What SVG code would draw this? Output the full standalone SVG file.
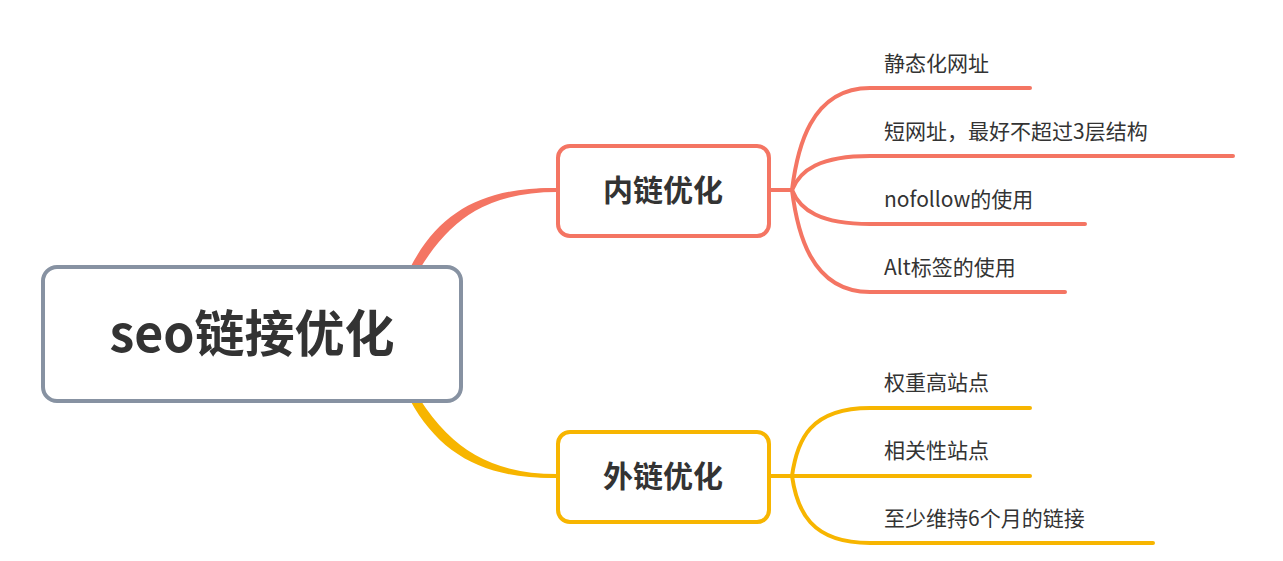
<svg xmlns="http://www.w3.org/2000/svg" width="1283" height="561" viewBox="0 0 1283 561">
<style>
.r{fill:none;stroke-width:4;stroke-linecap:round}
.red{stroke:#F47563}.yel{stroke:#F7B500}
.t{font-family:"Noto Sans CJK SC","Noto Sans",sans-serif;fill:#333}
.leaf{font-size:21px}
.mid{font-size:30px;font-weight:bold;text-anchor:middle}
</style>
<rect width="1283" height="561" fill="#fff"/>
<g id="connectors">
<path d="M418,268 C450,215 490,190 557,190 L557,188 C485,187 440,210 410,268 Z" fill="#F47563"/>
<path d="M418,400 C450,450 490,476 557,476 L557,478 C485,479 440,455 410,400 Z" fill="#F7B500"/>
<path class="r red" d="M418,268 C450,215 490,190 557,190"/>
<path class="r yel" d="M418,400 C450,450 490,476 557,476"/>
<g class="r red">
<path d="M770,190 H792 C797,150 810,88 870,88 H1030"/>
<path d="M792,190 C800,170 820,156 870,156 H1233"/>
<path d="M792,190 C800,210 820,224 870,224 H1085"/>
<path d="M792,190 C797,230 810,292 870,292 H1065"/>
</g>
<g class="r yel">
<path d="M770,476 H792 C797,440 810,408 870,408 H1030"/>
<path d="M792,476 H1030"/>
<path d="M792,476 C797,510 810,543 870,543 H1153"/>
</g>
</g>
<g id="root">
<rect x="43" y="267" width="418" height="134" rx="14" fill="#fff" stroke="#8792A2" stroke-width="4"/>
<text class="t" x="252" y="352" font-size="50" font-weight="bold" text-anchor="middle">seo链接优化</text>
</g>
<g id="n1">
<rect x="558" y="146" width="211" height="90" rx="12" fill="#fff" stroke="#F47563" stroke-width="4"/>
<text class="t mid" x="663" y="201">内链优化</text>
</g>
<g id="n2">
<rect x="558" y="432" width="211" height="90" rx="12" fill="#fff" stroke="#F7B500" stroke-width="4"/>
<text class="t mid" x="663" y="487">外链优化</text>
</g>
<g id="l1"><text class="t leaf" x="884" y="71">静态化网址</text></g>
<g id="l2"><text class="t leaf" x="884" y="139">短网址，最好不超过3层结构</text></g>
<g id="l3"><text class="t leaf" x="884" y="207">nofollow的使用</text></g>
<g id="l4"><text class="t leaf" x="884" y="275">Alt标签的使用</text></g>
<g id="l5"><text class="t leaf" x="884" y="390">权重高站点</text></g>
<g id="l6"><text class="t leaf" x="884" y="458">相关性站点</text></g>
<g id="l7"><text class="t leaf" x="884" y="526">至少维持6个月的链接</text></g>
</svg>
